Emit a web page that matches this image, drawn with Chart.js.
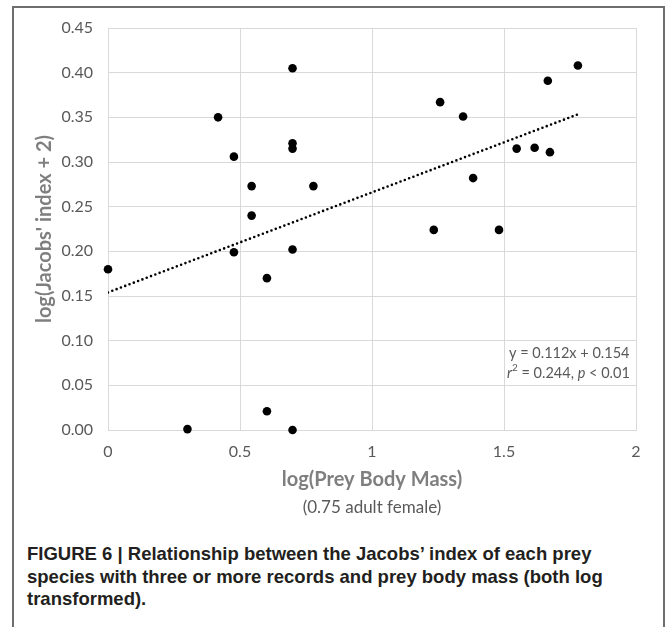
<!DOCTYPE html>
<html>
<head>
<meta charset="utf-8">
<script src="https://cdn.jsdelivr.net/npm/chart.js@4.4.1/dist/chart.umd.min.js"></script>
<style>
  html, body { margin: 0; padding: 0; background: #fff; }
  body { width: 667px; height: 627px; position: relative; overflow: hidden; }
  #frame {
    position: absolute; left: 12px; top: 6px; width: 649px; height: 720px;
    border: 2px solid #6e6e6e;
  }
  #plot { position: absolute; left: 0; top: 0; }
  #caption {
    position: absolute; left: 27px; top: 543px;
    font-family: "Liberation Sans", Arial, sans-serif; font-weight: bold;
    font-size: 18.5px; line-height: 22.5px; color: #231f20; white-space: nowrap;
  }
</style>
</head>
<body>
<div id="frame"></div>
<canvas id="plot" width="667" height="530"></canvas>
<div id="caption">FIGURE 6 | Relationship between the Jacobs’ index of each prey<br>species with three or more records and prey body mass (both log<br>transformed).</div>
<script>
  // log prey body mass (x) and log(Jacobs' index + 2) (y), one entry per prey species
  const massX = [0, 0.301, 0.417, 0.477, 0.477, 0.544, 0.544, 0.602, 0.602,
    0.699, 0.699, 0.699, 0.699, 0.699, 0.778,
    1.234, 1.258, 1.345, 1.383, 1.481, 1.548, 1.616, 1.666, 1.674, 1.780];
  const jacobsY = [0.180, 0.001, 0.350, 0.306, 0.199, 0.273, 0.240, 0.170, 0.021,
    0.405, 0.321, 0.315, 0.202, 0.000, 0.273,
    0.224, 0.367, 0.351, 0.282, 0.224, 0.315, 0.316, 0.391, 0.311, 0.408];

  // linear fit reported on the chart
  const slope = 0.112;
  const intercept = 0.154;
  const fitX = [0, Math.max(...massX)];

  const xTicks = [0, 0.5, 1, 1.5, 2];
  const yTicks = [0, 0.05, 0.10, 0.15, 0.20, 0.25, 0.30, 0.35, 0.40, 0.45];

  const tickColor = '#595959';
  const titleColor = '#7f7f7f';
  const gridColor = '#d9d9d9';

  // subtitle under the x title and the regression text box
  const extraText = {
    id: 'extraText',
    afterDraw(chart) {
      const { ctx, chartArea, scales } = chart;
      ctx.save();
      ctx.fillStyle = tickColor;
      ctx.textBaseline = 'middle';
      ctx.textAlign = 'center';
      ctx.font = '17px Lato';
      ctx.fillText('(0.75 adult female)', (scales.x.left + scales.x.right) / 2, 508);

      ctx.textAlign = 'left';
      let x = chartArea.right - 127;
      let y = chartArea.bottom - 77;
      ctx.font = '14.5px Lato';
      ctx.fillText('y = ' + slope.toFixed(3) + 'x + ' + intercept.toFixed(3), x, y);

      // r² line with italic symbols
      x = chartArea.right - 129;
      y = chartArea.bottom - 57;
      const parts = [
        ['italic 14.5px Lato', 'r', 0],
        ['10px Lato', '2', -5],
        ['14.5px Lato', ' = 0.244, ', 0],
        ['italic 14.5px Lato', 'p', 0],
        ['14.5px Lato', ' < 0.01', 0]
      ];
      parts.forEach(([font, text, dy]) => {
        ctx.font = font;
        ctx.fillText(text, x, y + dy);
        x += ctx.measureText(text).width;
      });
      ctx.restore();
    }
  };

  const ctx = document.getElementById('plot').getContext('2d');
  new Chart(ctx, {
    type: 'scatter',
    data: {
      datasets: [{
        label: 'Prey species',
        data: massX.map((x, i) => ({ x: x, y: jacobsY[i] })),
        backgroundColor: '#000',
        borderWidth: 0,
        pointRadius: 4.3,
        clip: false,
        order: 1
      }, {
        type: 'line',
        label: 'Linear fit',
        data: fitX.map(x => ({ x: x, y: slope * x + intercept })),
        borderColor: '#000',
        borderWidth: 2.6,
        borderDash: [0, 4.6],
        borderCapStyle: 'round',
        pointRadius: 0,
        fill: false,
        order: 0
      }]
    },
    options: {
      responsive: false,
      animation: false,
      devicePixelRatio: 1,
      layout: { padding: { left: 33, top: 28, right: 31, bottom: 38 } },
      plugins: { legend: { display: false }, tooltip: { enabled: false } },
      scales: {
        x: {
          type: 'linear',
          min: 0, max: 2,
          afterBuildTicks: s => { s.ticks = xTicks.map(v => ({ value: v })); },
          afterFit: s => { s.height = 62; },
          grid: { color: gridColor, drawTicks: false },
          border: { color: gridColor },
          ticks: {
            color: tickColor, font: { family: 'Lato', size: 16 }, padding: 12,
            callback: v => String(v)
          },
          title: {
            display: true, text: 'log(Prey Body Mass)', color: titleColor,
            font: { family: 'Lato', size: 20, weight: 'bold' }, padding: 0
          }
        },
        y: {
          type: 'linear',
          min: 0, max: 0.45,
          afterBuildTicks: s => { s.ticks = yTicks.map(v => ({ value: v })); },
          afterFit: s => { s.width = 75; },
          grid: { color: gridColor, drawTicks: false },
          border: { color: gridColor },
          ticks: {
            color: tickColor, font: { family: 'Lato', size: 16 }, padding: 15,
            callback: v => Number(v).toFixed(2)
          },
          title: {
            display: true, text: "log(Jacobs' index + 2)", color: titleColor,
            font: { family: 'Lato', size: 20, weight: 'bold' }, padding: 0
          }
        }
      }
    },
    plugins: [extraText]
  });
</script>
</body>
</html>
